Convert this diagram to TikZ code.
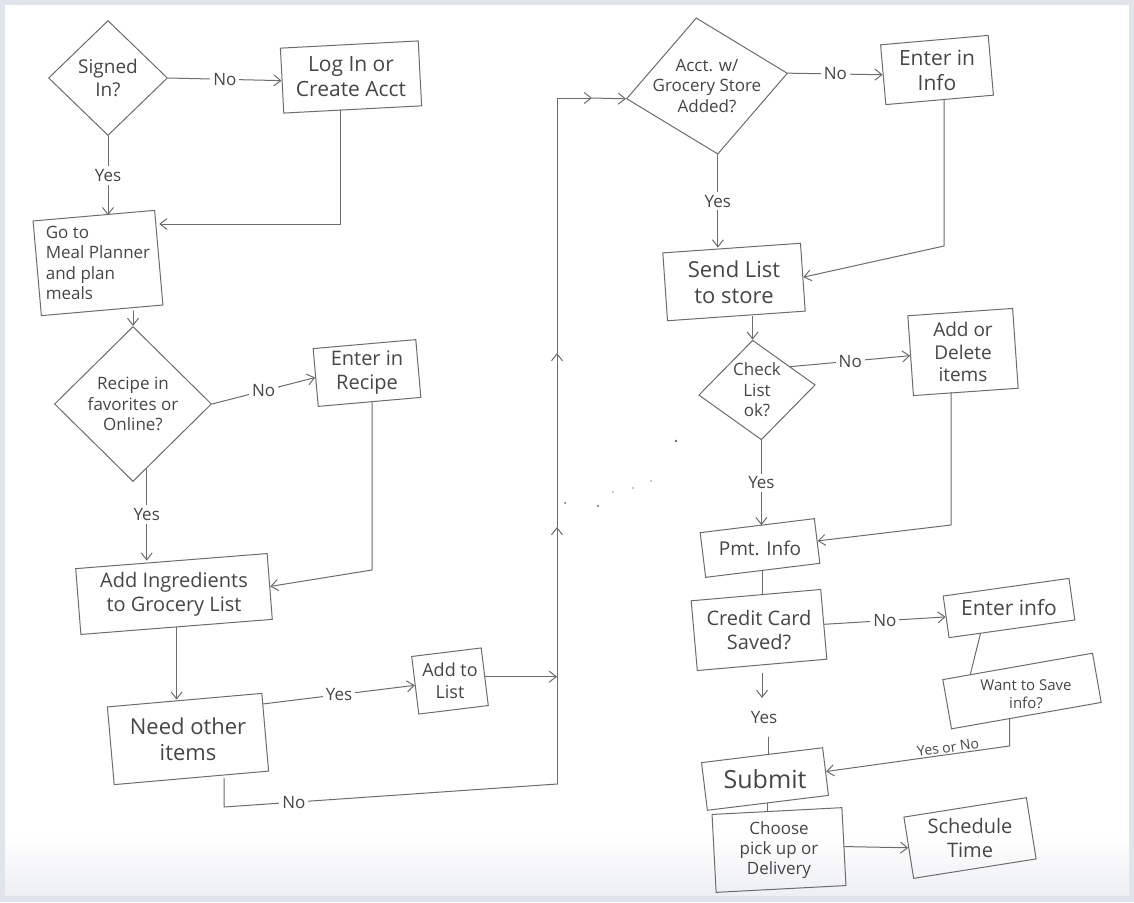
\documentclass[tikz,border=0pt]{standalone}
\usepackage{fontspec}
\setmainfont{Open Sans}
\usetikzlibrary{arrows.meta,shapes.geometric,calc}
\definecolor{pencil}{RGB}{108,108,108}
\definecolor{ink}{RGB}{70,70,70}
\definecolor{framec}{RGB}{224,229,237}
\definecolor{papershade}{RGB}{238,239,242}
\newcommand\myfs[1]{\fontsize{#1}{\dimexpr #1pt*6/5\relax}\selectfont}
\begin{document}
\begin{tikzpicture}[x=1pt,y=-1pt,
  box/.style={draw=pencil, line width=1pt, rectangle, inner sep=2pt},
  dia/.style={draw=pencil, line width=1pt, diamond, inner sep=0pt},
  dtext/.style={align=center, text=ink},
  lbl/.style={fill=white, inner sep=3pt, text=ink, font=\myfs{17}},
  conn/.style={draw=pencil, line width=1pt, line cap=round, line join=round},
  arr/.style={conn, -{Straight Barb[length=7pt,width=11pt]}}]
\fill[framec] (0,0) rectangle (1134,902);
\fill[white] (5,5) rectangle (1129,895);
\shade[top color=white, bottom color=papershade] (5,835) rectangle (1129,895);
\useasboundingbox (0,0) rectangle (1134,902);

% ---------- left column ----------
\node[dia, minimum width=119pt, minimum height=115pt,
  label={[dtext,font=\myfs{19}]center:Signed\\In?}] (D1) at (108,78) {};
\node[box, rotate=3, minimum width=138pt, minimum height=65pt,
  label={[dtext,font=\myfs{21}]center:Log In or\\Create Acct}] (B1) at (351,77) {};
\node[box, rotate=5, minimum width=122pt, minimum height=95pt,
  label={[dtext,align=left,font=\myfs{17}]center:Go to\\Meal Planner\\and plan\\meals}] (B2) at (98,263) {};
\node[dia, minimum width=157pt, minimum height=155pt,
  label={[dtext,font=\myfs{17}]center:Recipe in\\favorites or\\Online?}] (D2) at (133,404) {};
\node[box, rotate=5, minimum width=103pt, minimum height=58pt,
  label={[dtext,font=\myfs{20}]center:Enter in\\Recipe}] (B3) at (367,373) {};
\node[box, rotate=4.5, minimum width=192pt, minimum height=66pt,
  label={[dtext,font=\myfs{20}]center:Add Ingredients\\to Grocery List}] (B4) at (174,594) {};
\node[box, rotate=5, minimum width=155pt, minimum height=78pt,
  label={[dtext,font=\myfs{22}]center:Need other\\items}] (B5) at (188,739) {};
\node[box, rotate=7, minimum width=70pt, minimum height=58pt,
  label={[dtext,font=\myfs{18}]center:Add to\\List}] (B6) at (450,681) {};

% ---------- right column ----------
\node[dia, rotate=9, minimum width=163pt, minimum height=138pt,
  label={[dtext,font=\myfs{17}]center:Acct. w/\\Grocery Store\\Added?}] (D3) at (707,86) {};
\node[box, rotate=5, minimum width=108pt, minimum height=60pt,
  label={[dtext,font=\myfs{21}]center:Enter in\\Info}] (B7) at (937,70) {};
\node[box, rotate=4, minimum width=138pt, minimum height=68pt,
  label={[dtext,font=\myfs{22}]center:Send List\\to store}] (B8) at (734,282) {};
\node[dia, rotate=5, minimum width=117pt, minimum height=100pt,
  label={[dtext,font=\myfs{17}]center:Check\\List\\ok?}] (D4) at (757,390) {};
\node[box, rotate=4, minimum width=105pt, minimum height=80pt,
  label={[dtext,font=\myfs{19}]center:Add or\\Delete\\items}] (B9) at (963,352) {};
\node[box, rotate=7, minimum width=115pt, minimum height=45pt,
  label={[dtext,font=\myfs{19}]center:Pmt. Info}] (B10) at (760,548) {};
\node[box, rotate=5, minimum width=130pt, minimum height=70pt,
  label={[dtext,font=\myfs{20}]center:Credit Card\\Saved?}] (B11) at (759,630) {};
\node[box, rotate=8, minimum width=127pt, minimum height=42pt,
  label={[dtext,font=\myfs{21}]center:Enter info}] (B12) at (1009,608) {};
\node[box, rotate=10, minimum width=152pt, minimum height=50pt,
  label={[dtext,font=\myfs{15},xshift=4pt,yshift=-3pt]center:Want to Save\\info?}] (B13) at (1022,691) {};
\node[box, rotate=7, minimum width=122pt, minimum height=48pt,
  label={[dtext,font=\myfs{25}]center:Submit}] (B14) at (765,779) {};
\node[box, rotate=3, minimum width=130pt, minimum height=78pt,
  label={[dtext,font=\myfs{17}]center:Choose\\pick up or\\Delivery}] (B15) at (779,850) {};
\node[box, rotate=9, minimum width=124pt, minimum height=62pt,
  label={[dtext,font=\myfs{20}]center:Schedule\\Time}] (B16) at (970,838) {};

% ---------- helper coordinates ----------
\coordinate (k1) at (340,224);
\coordinate (k2) at (372,570);
\coordinate (c1) at (224,807);
\coordinate (vb) at (557,784);
\coordinate (m1) at (557,527);
\coordinate (m2) at (557,353);
\coordinate (vt) at (557,98);
\coordinate (m3) at (592,98);
\coordinate (k3) at (944,246);
\coordinate (k4) at (951,525);
\coordinate (ya) at (762,698);
\coordinate (yb) at (768,737);
\coordinate (k6) at (1011,746);

% ---------- connectors: left ----------
\draw[arr] (D1.east) -- node[lbl]{No} (B1.west);
\draw[arr] (B1.south -| k1) -- (k1) -- (k1 -| B2.east);
\draw[arr] (D1.south) -- node[lbl]{Yes} (D1.south |- B2.north);
\draw[arr] (D2.north |- B2.south) -- (D2.north);
\draw[arr] (D2.east) -- node[lbl]{No} (B3.west);
\draw[arr] (B3.south -| k2) -- (k2) -- (B4.east);
\draw[arr] (D2.-78) -- node[lbl]{Yes} (D2.-78 |- B4.north);
\draw[arr] (B4.south) -- (B4.south |- B5.north);
\draw[arr] (B5.20) -- node[lbl]{Yes} (B6.west);
\draw[arr] (B6.east) -- (B6.east -| vb);
\draw[conn] (B5.south -| c1) -- (c1) -- node[lbl,pos=0.21]{No} (vb);
\draw[arr] (vb) -- (m1);
\draw[arr] (m1) -- (m2);
\draw[arr] (m2) -- (vt) -- (m3);
\draw[arr] (m3) -- (D3.west);

% ---------- connectors: right ----------
\draw[arr] (D3.east) -- node[lbl]{No} (B7.west);
\draw[arr] (B7.south -| k3) -- (k3) -- (B8.east);
\draw[arr] (D3.south) -- node[lbl]{Yes} (D3.south |- B8.north);
\draw[arr] (B8.south -| D4.north) -- (D4.north);
\draw[arr] (D4.30) -- node[lbl]{No} (B9.west);
\draw[arr] (B9.south -| k4) -- (k4) -- (B10.east);
\draw[arr] (D4.south) -- node[lbl]{Yes} (D4.south |- B10.north);
\draw[conn] (B10.south) -- (B10.south |- B11.north);
\draw[arr] (B11.east) -- node[lbl]{No} (B12.west);
\draw[arr] ([yshift=-8pt]B11.south -| ya) -- (ya);
\node[lbl] (Ly) at (764,718) {Yes};
\draw[conn] (yb) -- (yb |- B14.north);
\draw[conn] (B12.-146) -- (B13.152);
\draw[arr] (B13.-124) -- (B13.-124 |- k6) -- node[pos=0.33, above=-2pt, sloped, text=ink, font=\myfs{14}]{Yes or No} (B14.east);
\draw[conn] (B14.south) -- (B14.south |- B15.north);
\draw[arr] (B15.east) -- (B16.west);

% ---------- pencil specks ----------
\fill[pencil] (676,441) circle (1.3pt);
\fill[pencil] (598,506) circle (1.1pt);
\fill[pencil] (565,503) circle (1pt);
\fill[pencil!70] (613,492) circle (0.9pt);
\fill[pencil!70] (633,488) circle (0.9pt);
\fill[pencil!70] (651,481) circle (0.9pt);
\end{tikzpicture}
\end{document}
